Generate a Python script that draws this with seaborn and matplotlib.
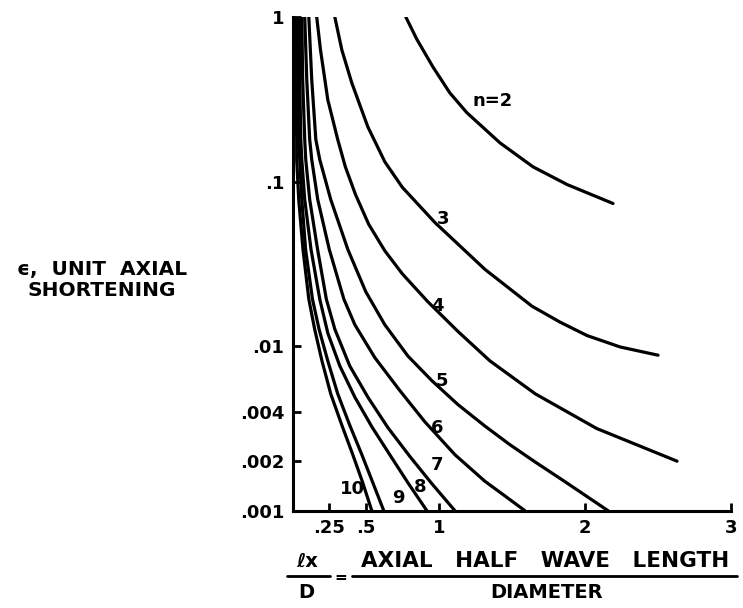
import matplotlib
matplotlib.use("Agg")
import matplotlib.pyplot as plt
import pandas as pd
import seaborn as sns
from matplotlib.lines import Line2D


# curves: x = lx/D, y = unit axial shortening
n2_x = [0.774, 0.849, 0.959, 1.075, 1.192, 1.418, 1.644, 1.877, 2.192]
n2_y = [1.0, 0.733, 0.498, 0.346, 0.262, 0.172, 0.123, 0.096, 0.0736]

n3_x = [0.288, 0.336, 0.404, 0.514, 0.630, 0.750, 0.973, 1.315, 1.637, 1.829, 2.014, 2.240, 2.500]
n3_y = [1.0, 0.631, 0.398, 0.215, 0.132, 0.0923, 0.0564, 0.0293, 0.0175, 0.0140, 0.0116, 0.00989, 0.00881]

n4_x = [0.164, 0.190, 0.240, 0.308, 0.360, 0.430, 0.520, 0.630, 0.750, 0.925, 1.130, 1.350, 1.660, 2.080, 2.630]
n4_y = [1.0, 0.631, 0.314, 0.180, 0.123, 0.0832, 0.0550, 0.0380, 0.0275, 0.0186, 0.0123, 0.00813, 0.00513, 0.00316, 0.00200]

n5_x = [0.110, 0.130, 0.158, 0.185, 0.260, 0.377, 0.500, 0.630, 0.788, 0.952, 1.130, 1.315, 1.486, 1.658, 1.849, 2.158]
n5_y = [1.0, 0.415, 0.180, 0.136, 0.0778, 0.0387, 0.0214, 0.0135, 0.00871, 0.00617, 0.00442, 0.00327, 0.00252, 0.00198, 0.00153, 0.001]

n6_x = [0.082, 0.096, 0.116, 0.130, 0.171, 0.250, 0.350, 0.425, 0.562, 0.733, 0.904, 1.110, 1.315, 1.452, 1.589]
n6_y = [1.0, 0.415, 0.180, 0.136, 0.0778, 0.0387, 0.0193, 0.0135, 0.00851, 0.00537, 0.00347, 0.00219, 0.00151, 0.00123, 0.001]

n7_x = [0.062, 0.068, 0.082, 0.089, 0.116, 0.170, 0.230, 0.288, 0.390, 0.514, 0.651, 0.801, 0.952, 1.110]
n7_y = [1.0, 0.415, 0.180, 0.136, 0.0778, 0.0387, 0.0193, 0.01268, 0.00759, 0.0049, 0.0032, 0.00214, 0.00146, 0.001]

n8_x = [0.048, 0.048, 0.055, 0.062, 0.082, 0.125, 0.185, 0.240, 0.322, 0.425, 0.541, 0.664, 0.788, 0.918]
n8_y = [1.0, 0.415, 0.180, 0.136, 0.0778, 0.0387, 0.0193, 0.0120, 0.00759, 0.0049, 0.00324, 0.00219, 0.00148, 0.001]

n9_x = [0.034, 0.034, 0.041, 0.048, 0.062, 0.088, 0.135, 0.180, 0.240, 0.308, 0.390, 0.473, 0.548, 0.623]
n9_y = [1.0, 0.415, 0.180, 0.136, 0.0778, 0.0387, 0.0193, 0.01268, 0.00813, 0.00513, 0.00331, 0.00219, 0.00148, 0.001]

n10_x = [0.021, 0.021, 0.027, 0.027, 0.041, 0.070, 0.110, 0.150, 0.200, 0.260, 0.336, 0.411, 0.479, 0.541]
n10_y = [1.0, 0.415, 0.180, 0.136, 0.0778, 0.0387, 0.0193, 0.01268, 0.00813, 0.00513, 0.00331, 0.00219, 0.00148, 0.001]

curve_x = [n2_x, n3_x, n4_x, n5_x, n6_x, n7_x, n8_x, n9_x, n10_x]
curve_y = [n2_y, n3_y, n4_y, n5_y, n6_y, n7_y, n8_y, n9_y, n10_y]
curve_n = [2, 3, 4, 5, 6, 7, 8, 9, 10]

# curve labels
label_text = ["n=2", "3", "4", "5", "6", "7", "8", "9", "10"]
label_x = [1.37, 1.03, 0.99, 1.02, 0.99, 0.99, 0.87, 0.72, 0.41]
label_y = [0.31, 0.059, 0.0175, 0.0061, 0.0032, 0.0019, 0.0014, 0.0012, 0.00136]

xticks = [0.25, 0.5, 1, 2, 3]
xtick_labels = [".25", ".5", "1", "2", "3"]
yticks = [0.001, 0.002, 0.004, 0.01, 0.1, 1]
ytick_labels = [".001", ".002", ".004", ".01", ".1", "1"]


df = pd.concat(
    [pd.DataFrame({"n": n, "x": xs, "y": ys}) for n, xs, ys in zip(curve_n, curve_x, curve_y)],
    ignore_index=True,
)

sns.set_style("ticks")
plt.rcParams["font.family"] = ["DejaVu Sans"]
plt.rcParams["font.weight"] = "bold"
plt.rcParams["text.color"] = "black"
plt.rcParams["xtick.color"] = "black"
plt.rcParams["ytick.color"] = "black"
plt.rcParams["lines.solid_joinstyle"] = "round"

fig = plt.figure(figsize=(7.43, 6.08), dpi=100)
ax = fig.add_axes([0.394, 0.160, 0.590, 0.812])

sns.lineplot(
    data=df, x="x", y="y", units="n", estimator=None, sort=False,
    color="black", linewidth=2.3, ax=ax,
)

ax.set_yscale("log")
ax.set_xlim(0, 3)
ax.set_ylim(0.001, 1)
ax.set_xticks(xticks)
ax.set_xticklabels(xtick_labels)
ax.set_yticks(yticks)
ax.set_yticklabels(ytick_labels)
ax.minorticks_off()
ax.tick_params(direction="in", length=6, width=2, labelsize=13, pad=6, colors="black")
ax.set_xlabel("")
ax.set_ylabel("")
for t in ax.get_xticklabels() + ax.get_yticklabels():
    t.set_fontweight("bold")

sns.despine(ax=ax)
for s in ["left", "bottom"]:
    ax.spines[s].set_linewidth(2.2)
    ax.spines[s].set_color("black")

for txt, lx, ly in zip(label_text, label_x, label_y):
    ax.text(lx, ly, txt, fontsize=13, fontweight="bold", ha="center", va="center", color="black")

# y axis title
fig.text(102 / 743, 1 - 280 / 608, "ϵ,  UNIT  AXIAL\nSHORTENING",
         ha="center", va="center", fontsize=14.5, fontweight="bold", linespacing=1.15)

# x axis title, drawn as a fraction
fig.text(307 / 743, 1 - 561 / 608, "ℓx", ha="center", va="center", fontsize=14, fontweight="bold")
fig.text(306 / 743, 1 - 592 / 608, "D", ha="center", va="center", fontsize=14, fontweight="bold")
fig.text(341 / 743, 1 - 577 / 608, "=", ha="center", va="center", fontsize=11, fontweight="bold")
fig.text(545 / 743, 1 - 561 / 608, "AXIAL   HALF   WAVE   LENGTH", ha="center", va="center",
         fontsize=15.5, fontweight="bold")
fig.text(547 / 743, 1 - 592 / 608, "DIAMETER", ha="center", va="center", fontsize=14, fontweight="bold")
fig.add_artist(Line2D([287 / 743, 330 / 743], [1 - 576 / 608] * 2, color="black", linewidth=2))
fig.add_artist(Line2D([352 / 743, 737 / 743], [1 - 576 / 608] * 2, color="black", linewidth=2))

fig.savefig("out.png", dpi=100)
